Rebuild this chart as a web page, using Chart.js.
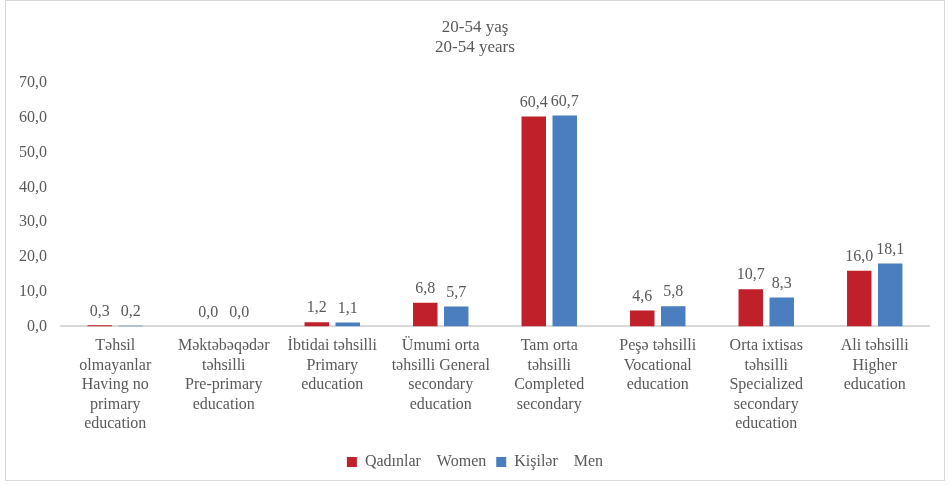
<!DOCTYPE html>
<html>
<head>
<meta charset="utf-8">
<script src="https://cdn.jsdelivr.net/npm/chart.js@4"></script>
<style>
  body { margin: 0; background: #fff; }
  #wrap { position: absolute; left: 5px; top: 0px; width: 940px; height: 481px; border: 1px solid #d9d9d9; box-sizing: border-box; }
</style>
</head>
<body>
<div id="wrap"><canvas id="myChart"></canvas></div>
<script>
// categories, two lines of azeri + english
var categories = [
  ["Təhsil", "olmayanlar", "Having no", "primary", "education"],
  ["Məktəbəqədər", "təhsilli", "Pre-primary", "education"],
  ["İbtidai təhsilli", "Primary", "education"],
  ["Ümumi orta", "təhsilli General", "secondary", "education"],
  ["Tam orta", "təhsilli", "Completed", "secondary"],
  ["Peşə təhsilli", "Vocational", "education"],
  ["Orta ixtisas", "təhsilli", "Specialized", "secondary", "education"],
  ["Ali təhsilli", "Higher", "education"]
];
var women = [0.3, 0.0, 1.2, 6.8, 60.4, 4.6, 10.7, 16.0];
var men = [0.2, 0.0, 1.1, 5.7, 60.7, 5.8, 8.3, 18.1];
var yTicks = [0, 10, 20, 30, 40, 50, 60, 70];

var grey = "#595959";
var font = "'Liberation Serif', 'Times New Roman', serif";

function fmt(v) {
  return v.toFixed(1).replace(".", ",");
}

// value labels above bars
var barLabels = {
  id: "barLabels",
  afterDatasetsDraw: function (chart) {
    var ctx = chart.ctx;
    ctx.save();
    ctx.fillStyle = grey;
    ctx.font = "16px " + font;
    ctx.textAlign = "center";
    ctx.textBaseline = "bottom";
    chart.data.datasets.forEach(function (ds, i) {
      chart.getDatasetMeta(i).data.forEach(function (bar, j) {
        ctx.fillText(fmt(ds.data[j]), bar.x, bar.y - 6);
      });
    });
    ctx.restore();
  }
};

var ctx = document.getElementById("myChart").getContext("2d");
var chart = new Chart(ctx, {
  type: "bar",
  data: {
    labels: categories,
    datasets: [
      {
        label: "Qadınlar    Women",
        data: women,
        backgroundColor: "#C0202A",
        barPercentage: 0.79,
        categoryPercentage: 0.571
      },
      {
        label: "Kişilər    Men",
        data: men,
        backgroundColor: "#4A7EBF",
        barPercentage: 0.79,
        categoryPercentage: 0.571
      }
    ]
  },
  options: {
    responsive: true,
    maintainAspectRatio: false,
    animation: false,
    layout: { padding: { left: 4, right: 4, top: 8, bottom: 0 } },
    plugins: {
      title: {
        display: true,
        text: ["20-54 yaş", "20-54 years"],
        color: grey,
        font: { family: font, size: 17, weight: "normal", lineHeight: 1.15 },
        padding: { top: 9, bottom: 26 }
      },
      legend: {
        position: "bottom",
        labels: {
          color: grey,
          font: { family: font, size: 16 },
          boxWidth: 10,
          boxHeight: 10,
          padding: 10
        }
      },
      tooltip: { enabled: false }
    },
    scales: {
      x: {
        grid: { display: false, drawTicks: false },
        border: { color: "#d9d9d9", width: 2 },
        ticks: {
          color: grey,
          font: { family: font, size: 16, lineHeight: 1.22 },
          maxRotation: 0,
          autoSkip: false,
          padding: 10
        },
        afterFit: function (s) {
          s.paddingLeft = 0;
          s.paddingRight = 0;
        }
      },
      y: {
        min: 0,
        max: 70,
        grid: { display: false, drawTicks: false },
        border: { display: false },
        afterBuildTicks: function (axis) {
          axis.ticks = yTicks.map(function (v) { return { value: v }; });
        },
        ticks: {
          color: grey,
          font: { family: font, size: 16 },
          padding: 14,
          callback: function (v) { return fmt(v); }
        },
        afterFit: function (s) {
          s.width = 51;
        }
      },
      // empty space on the right side
      yRight: {
        position: "right",
        min: 0,
        max: 70,
        grid: { display: false, drawTicks: false },
        border: { display: false },
        ticks: { display: false },
        afterFit: function (s) {
          s.width = 11;
        }
      }
    }
  },
  plugins: [barLabels]
});
</script>
</body>
</html>
